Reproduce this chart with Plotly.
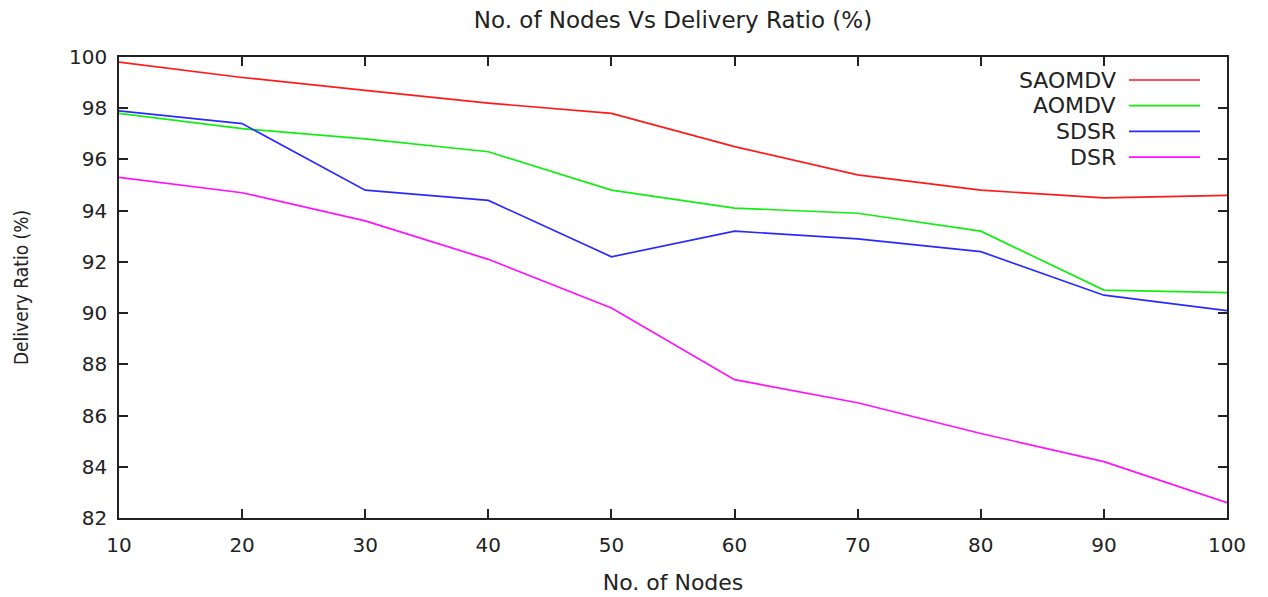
import plotly.graph_objects as go

nodes = [10, 20, 30, 40, 50, 60, 70, 80, 90, 100]
saomdv = [99.8, 99.2, 98.7, 98.2, 97.8, 96.5, 95.4, 94.8, 94.5, 94.6]
aomdv = [97.8, 97.2, 96.8, 96.3, 94.8, 94.1, 93.9, 93.2, 90.9, 90.8]
sdsr = [97.9, 97.4, 94.8, 94.4, 92.2, 93.2, 92.9, 92.4, 90.7, 90.1]
dsr = [95.3, 94.7, 93.6, 92.1, 90.2, 87.4, 86.5, 85.3, 84.2, 82.6]

names = ["SAOMDV", "AOMDV", "SDSR", "DSR"]
series = [saomdv, aomdv, sdsr, dsr]
colors = ["#ff1a1a", "#11ee11", "#2a2aff", "#ff11ff"]
x_ticks = list(range(10, 101, 10))
y_ticks = list(range(82, 101, 2))

font = "DejaVu Sans"
fig = go.Figure()
for n, s, c in zip(names, series, colors):
    fig.add_trace(go.Scatter(x=nodes, y=s, mode="lines", name=n,
                             line=dict(color=c, width=1.7), showlegend=False))

# manual legend (text right-aligned, sample line on right)
W, H = 1268, 597
ml, mr, mt, mb = 119, 41, 57, 79
pw, ph = W - ml - mr, H - mt - mb
for i, (n, c) in enumerate(zip(names, colors)):
    ypx = 80 + i * 25.7
    yp = 1 - (ypx - mt) / ph
    fig.add_annotation(x=(1118 - ml) / pw, y=yp, xref="paper", yref="paper",
                       text=n, showarrow=False, xanchor="right", yanchor="middle",
                       font=dict(family=font, size=22, color="#222"))
    fig.add_shape(type="line", xref="paper", yref="paper",
                  x0=(1129 - ml) / pw, x1=(1200 - ml) / pw, y0=yp, y1=yp,
                  line=dict(color=c, width=1.7))

fig.update_layout(
    width=W, height=H,
    margin=dict(l=ml, r=mr, t=mt, b=mb, autoexpand=False),
    paper_bgcolor="white", plot_bgcolor="white",
    title=dict(text="No. of Nodes Vs Delivery Ratio (%)", x=(673 - ml) / pw, xref="paper",
               xanchor="center", y=1 - 20 / H, yanchor="middle",
               font=dict(family=font, size=23, color="#222")),
    font=dict(family=font, size=16, color="#222"),
)
fig.update_xaxes(range=[10, 100], tickvals=x_ticks, showgrid=False, zeroline=False,
                 automargin=False,
                 showline=True, linecolor="#222", linewidth=1.5, mirror="ticks",
                 ticks="inside", ticklen=9, tickwidth=1.5, tickcolor="#222",
                 ticklabelstandoff=8,
                 tickfont=dict(family=font, size=20),
                 title=dict(text="No. of Nodes", font=dict(family=font, size=22), standoff=19))
fig.update_yaxes(range=[82, 100], tickvals=y_ticks, showgrid=False, zeroline=False,
                 automargin=False,
                 showline=True, linecolor="#222", linewidth=1.5, mirror="ticks",
                 ticks="inside", ticklen=9, tickwidth=1.5, tickcolor="#222",
                 ticklabelstandoff=6,
                 tickfont=dict(family=font, size=20),
                 title=dict(text="Delivery Ratio (%)",
                            font=dict(family="DejaVu Sans Condensed", size=19),
                            standoff=35))

fig.write_html("out.html")
